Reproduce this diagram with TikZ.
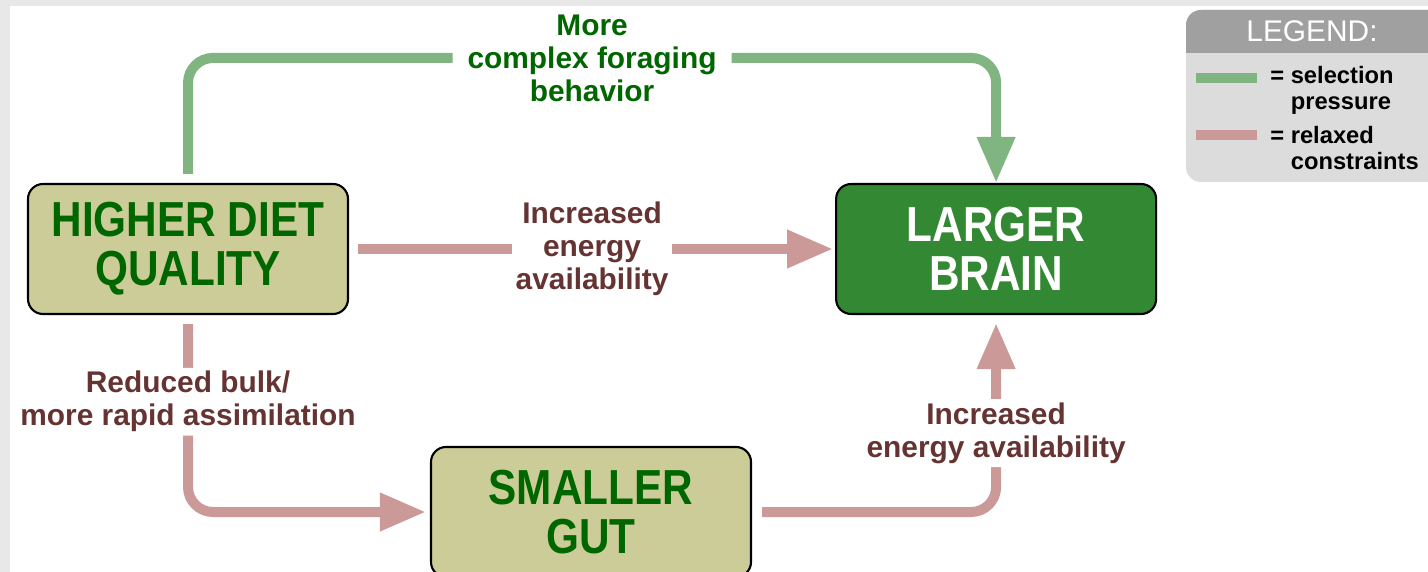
\documentclass[tikz,border=0pt]{standalone}
\usepackage{fontspec}
\setmainfont{Liberation Sans}
\newfontfamily\boxfont{Liberation Sans}[FakeStretch=0.86]
\usepackage{xcolor}
\usetikzlibrary{arrows.meta}
\usetikzlibrary{positioning}
\definecolor{framegray}{RGB}{232,232,232}
\definecolor{khaki}{RGB}{204,204,153}
\definecolor{boxgreen}{RGB}{0,102,0}
\definecolor{braingreen}{RGB}{51,136,51}
\definecolor{selgreen}{RGB}{128,180,128}
\definecolor{relpink}{RGB}{204,153,153}
\definecolor{labelbrown}{RGB}{102,51,51}
\definecolor{leghead}{RGB}{160,160,160}
\definecolor{legbody}{RGB}{220,220,220}

\begin{document}
\begin{tikzpicture}
\tikzset{databox/.style={rectangle,rounded corners=0.3cm,draw=black,line width=1.2pt,minimum width=6.4cm,minimum height=2.6cm,align=center,font=\boxfont\bfseries\fontsize{28}{28}\selectfont}}
\tikzset{selarrow/.style={draw=selgreen,line width=0.2cm,rounded corners=0.5cm,-{Triangle[length=0.92cm,width=0.72cm]}}}
\tikzset{relarrow/.style={draw=relpink,line width=0.2cm,rounded corners=0.5cm,-{Triangle[length=0.92cm,width=0.72cm]}}}
\tikzset{arrowlabel/.style={fill=white,text=labelbrown,align=center,inner sep=2pt,font=\bfseries\fontsize{17}{18.8}\selectfont}}
\tikzset{legtext/.style={align=left,inner sep=0pt,anchor=west,font=\bfseries\fontsize{13.5}{14.4}\selectfont}}
\useasboundingbox (0,0) rectangle (28.56,-11.44);
\clip (0,0) rectangle (28.56,-11.44);
\fill[framegray] (0,0) rectangle (28.56,-11.44);
\fill[white] (0.2,-0.12) rectangle (28.56,-11.44);
% boxes
\node[databox,fill=khaki,text=boxgreen](diet) at (3.76,-4.98){HIGHER DIET\\QUALITY};
\node[databox,fill=braingreen,text=white](brain)[right=9.72cm of diet]{LARGER\\BRAIN};
\node[databox,fill=khaki,text=boxgreen](gut) at (11.82,-10.24){SMALLER\\GUT};
% arrows
\draw[selarrow,shorten <=0.18cm](diet.north) -- ++(0,2.5) -| node[arrowlabel,text=boxgreen,pos=0.25,inner xsep=0.3cm](forage){More\\complex foraging\\behavior} (brain.north);
\draw[relarrow,shorten <=0.18cm,shorten >=0.04cm](diet.east) -- node[arrowlabel](energy){Increased\\energy\\availability} (brain.west);
\draw[relarrow,shorten <=0.18cm,shorten >=0.08cm](diet.south) |- node[arrowlabel,pos=0.22](bulk){Reduced bulk/\\more rapid assimilation} (gut.west);
\draw[relarrow,shorten <=0.2cm,shorten >=0.16cm](gut.east) -| node[arrowlabel,pos=0.7](energytwo){Increased\\energy availability} (brain.south);
% legend
\fill[legbody,rounded corners=0.3cm] (23.72,-0.2) rectangle (29.2,-3.64);
\begin{scope}
\clip (23,-0.2) rectangle (29.2,-1.06);
\fill[leghead,rounded corners=0.3cm] (23.72,-0.2) rectangle (29.2,-3.64);
\end{scope}
\node[text=white,font=\fontsize{17}{18}\selectfont](legend) at (26.24,-0.62){LEGEND:};
\node[legtext](selkey) at (25.4,-1.81){=~selection\\\hphantom{=~}pressure};
\node[legtext](relkey) at (25.4,-2.96){=~relaxed\\\hphantom{=~}constraints};
\draw[selgreen,line width=0.2cm](23.92,-1.56) -- (25.14,-1.56);
\draw[relpink,line width=0.2cm](23.92,-2.7) -- (25.14,-2.7);
\end{tikzpicture}
\end{document}
